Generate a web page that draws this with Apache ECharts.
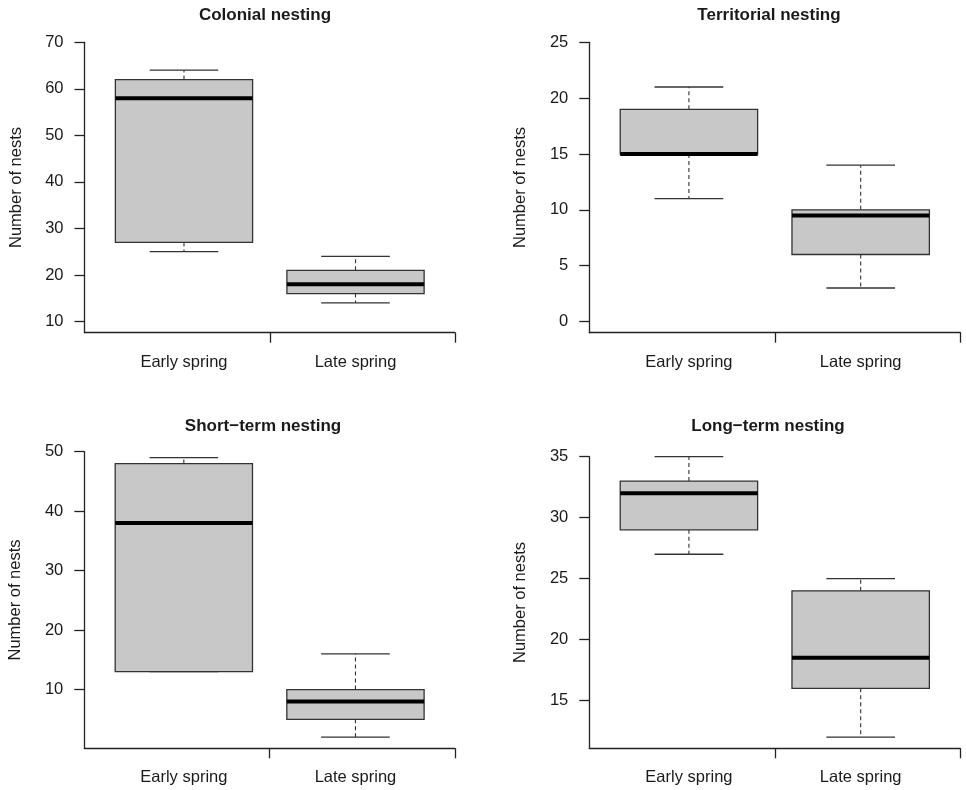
<!DOCTYPE html>
<html>
<head>
<meta charset="utf-8">
<script src="https://cdn.jsdelivr.net/npm/echarts@6/dist/echarts.min.js"></script>
<style>
  html, body { margin: 0; padding: 0; background: #fff; }
  #chart { width: 966px; height: 790px; }
</style>
</head>
<body>
<div id="chart"></div>
<script>
// categories and tick labels
const seasons = ["Early spring", "Late spring"];
const panelTitles = ["Colonial nesting", "Territorial nesting", "Short\u2212term nesting", "Long\u2212term nesting"];
const yTicks1 = [10, 20, 30, 40, 50, 60, 70];
const yTicks2 = [0, 5, 10, 15, 20, 25];
const yTicks3 = [10, 20, 30, 40, 50];
const yTicks4 = [15, 20, 25, 30, 35];

// box stats per season: [low whisker, Q1, median, Q3, high whisker]
const colonial = [[25, 27, 58, 62, 64], [14, 16, 18, 21, 24]];
const territorial = [[11, 15, 15, 19, 21], [3, 6, 9.5, 10, 14]];
const shortTerm = [[13, 13, 38, 48, 49], [2, 5, 8, 10, 16]];
const longTerm = [[27, 29, 32, 33, 35], [12, 16, 18.5, 24, 25]];

const FONT = "Liberation Sans, Arial, Helvetica, sans-serif";
const INK = "#1a1a1a";

const panels = [
  { title: panelTitles[0], data: colonial, ticks: yTicks1, min: 7.6, max: 70,
    grid: { left: 84.5, right: 511, top: 42.3, bottom: 457.3 }, titleX: 265, titleY: 7 },
  { title: panelTitles[1], data: territorial, ticks: yTicks2, min: -1, max: 25,
    grid: { left: 589.3, right: 5.7, top: 42.3, bottom: 457.3 }, titleX: 769, titleY: 7 },
  { title: panelTitles[2], data: shortTerm, ticks: yTicks3, min: 0.12, max: 50,
    grid: { left: 84.3, right: 511, top: 451.7, bottom: 41.7 }, titleX: 263, titleY: 418 },
  { title: panelTitles[3], data: longTerm, ticks: yTicks4, min: 11.08, max: 35,
    grid: { left: 589.3, right: 5.7, top: 456.7, bottom: 41.7 }, titleX: 768, titleY: 418 },
];

function renderBox(params, api) {
  const x = api.value(0);
  const low = api.value(1), q1 = api.value(2), med = api.value(3), q3 = api.value(4), high = api.value(5);
  const bw = 0.4, cw = 0.2;
  const pt = (vx, vy) => api.coord([vx, vy]);
  const line = (a, b, style) => ({ type: "line", shape: { x1: a[0], y1: a[1], x2: b[0], y2: b[1] }, style });
  const dashed = { stroke: "#333", lineWidth: 1.1, lineDash: [4, 3] };
  const solid = { stroke: "#333", lineWidth: 1.3 };
  const tl = pt(x - bw, q3), br = pt(x + bw, q1);
  return {
    type: "group",
    children: [
      line(pt(x, q3), pt(x, high), dashed),
      line(pt(x, q1), pt(x, low), dashed),
      line(pt(x - cw, high), pt(x + cw, high), solid),
      line(pt(x - cw, low), pt(x + cw, low), solid),
      { type: "rect", shape: { x: tl[0], y: tl[1], width: br[0] - tl[0], height: br[1] - tl[1] },
        style: { fill: "#c8c8c8", stroke: "#333", lineWidth: 1.3 } },
      line(pt(x - bw, med), pt(x + bw, med), { stroke: "#000", lineWidth: 4 }),
    ],
  };
}

const option = {
  animation: false,
  textStyle: { fontFamily: FONT },
  title: panels.map((p) => ({
    text: p.title, left: p.titleX, top: p.titleY, textAlign: "center", padding: 0,
    textStyle: { fontFamily: FONT, fontSize: 17, fontWeight: "bold", color: INK },
  })),
  grid: panels.map((p) => p.grid),
  xAxis: panels.map((p, i) => ({
    type: "value", gridIndex: i, min: 0.42, max: 2.58,
    splitLine: { show: false },
    axisLine: { onZero: false, lineStyle: { color: "#222", width: 1.3 } },
    axisTick: { length: 10, customValues: [1.5, 2.58], lineStyle: { color: "#222", width: 1.3 } },
    axisLabel: {
      customValues: [1, 2], margin: 21, fontSize: 16.5, color: INK, fontFamily: FONT,
      formatter: (v) => seasons[Math.round(v) - 1] || "",
    },
  })),
  yAxis: panels.map((p, i) => ({
    type: "value", gridIndex: i, min: p.min, max: p.max,
    name: "Number of nests", nameLocation: "middle", nameGap: 60,
    nameTextStyle: { fontSize: 16.5, color: INK, fontFamily: FONT },
    splitLine: { show: false },
    axisLine: { show: true, onZero: false, lineStyle: { color: "#222", width: 1.3 } },
    axisTick: { show: true, length: 10, customValues: p.ticks, lineStyle: { color: "#222", width: 1.3 } },
    axisLabel: { customValues: p.ticks, margin: 21, fontSize: 16.5, color: INK, fontFamily: FONT },
  })),
  series: panels.map((p, i) => ({
    type: "custom", xAxisIndex: i, yAxisIndex: i,
    renderItem: renderBox,
    encode: { x: 0, y: [1, 2, 3, 4, 5] },
    data: p.data.map((d, k) => [k + 1].concat(d)),
    clip: false,
  })),
};

const chart = echarts.init(document.getElementById("chart"), null, { renderer: "canvas" });
chart.setOption(option);
</script>
</body>
</html>
